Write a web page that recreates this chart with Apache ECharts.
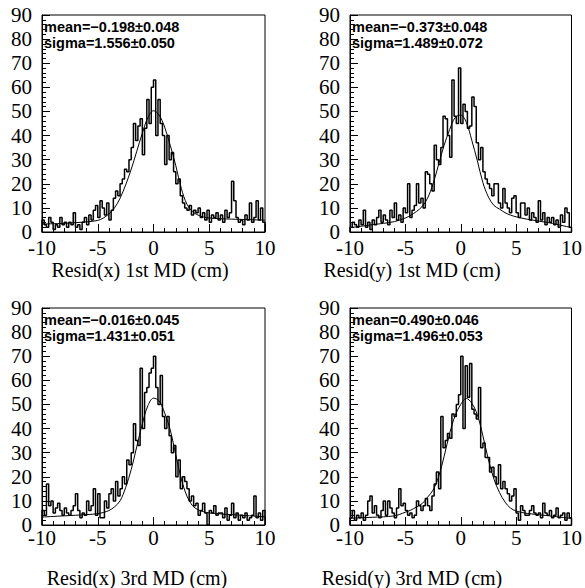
<!DOCTYPE html>
<html>
<head>
<meta charset="utf-8">
<script src="https://cdn.jsdelivr.net/npm/echarts@6/dist/echarts.min.js"></script>
<style>
html,body{margin:0;padding:0;background:#fff;}
#chart{width:585px;height:588px;}
</style>
</head>
<body>
<div id="chart"></div>
<script>
// Histogram binning (100 bins from -10 to 10)
const binLow = -10;
const binWidth = 0.2;

const countsX1 = [5,3,2,6,4,1,3,2,6,3,
  4,2,4,3,8,2,3,1,4,6,
  3,7,5,9,11,6,13,10,7,12,
  5,9,14,17,15,20,22,26,25,30,
  35,45,38,44,47,32,43,55,45,60,
  63,40,55,45,40,28,40,30,33,25,
  20,22,15,12,10,9,11,7,9,8,
  10,6,8,5,9,4,7,6,8,5,
  7,4,9,6,8,21,13,6,4,5,
  3,7,5,12,4,6,13,5,10,4];

const countsY1 = [2,4,3,2,5,3,9,2,4,1,
  5,3,6,9,4,7,5,3,9,6,
  12,5,7,4,10,8,20,6,9,11,
  20,12,14,10,25,24,20,17,36,30,
  28,35,48,47,40,31,63,48,45,68,
  45,53,50,43,44,56,52,37,30,35,
  25,22,20,18,15,20,20,12,10,18,
  12,10,8,14,15,8,6,12,12,7,
  10,5,8,6,4,13,5,8,3,6,
  4,6,3,5,2,7,4,10,8,2];

const countsX3 = [6,4,17,8,10,5,7,9,6,4,
  7,5,4,6,8,13,6,3,5,4,
  10,6,8,15,4,13,3,3,10,7,
  13,15,10,18,12,15,20,17,27,25,
  30,42,35,33,65,40,55,57,63,65,
  70,57,50,62,45,40,45,37,30,33,
  20,27,15,20,18,15,10,12,8,9,
  4,6,9,5,0,6,5,8,4,5,
  5,3,7,2,4,9,3,5,2,4,
  3,5,2,3,4,12,3,5,2,6];

const countsY3 = [3,6,2,4,3,5,2,4,10,12,
  5,8,4,3,6,10,4,10,7,5,
  3,7,15,8,9,6,4,5,3,4,
  10,8,6,8,11,8,6,12,17,22,
  15,45,32,35,38,36,46,45,50,54,
  70,40,66,53,67,48,46,44,57,32,
  34,28,28,22,24,20,17,25,15,18,
  15,13,10,12,15,5,2,8,6,4,
  4,6,8,5,4,5,3,9,5,4,
  6,3,4,7,3,4,5,2,5,3];

// Fit curves at these x positions
const fitX = [-10,-8,-6,-5,-4.5,-4,-3.5,-3,-2.5,-2,-1.5,-1,-0.5,0,0.5,1,1.5,2,2.5,3,3.5,4,4.5,5,6,8,10];
const fitX1 = [3.3,3.6,4.2,4.8,5.8,7.5,10,14,19.5,26,33.5,41,47.5,50.3,48.5,43.5,36,27.5,18,11.5,8.5,7,6.2,5.8,5.5,5.2,4.9];
const fitY1 = [1.8,3,4.3,5.8,7,8.5,10.5,14,20,28,36,42.5,47.5,48.5,45.5,38,29.5,20.5,14.5,11,9.5,8,7,6.3,5.3,3.8,1.8];
const fitX3 = [3.3,3.8,4.3,4.7,5.2,6,7.5,10,15.5,23,32.5,42,49.5,52.6,51.5,46.5,39.5,29,19,12,8,6.3,5.5,5,4.6,4,3.4];
const fitY3 = [2.8,3.2,3.8,5.3,6.2,7.5,8.8,11.5,14.5,20,28.5,38,45.5,50,52.5,50.5,45.7,37,27,19,13.5,9.5,7,5.8,4.8,3.8,2.7];

const statLines = [
  ['mean=\u22120.198\u00b10.048', 'sigma=1.556\u00b10.050'],
  ['mean=\u22120.373\u00b10.048', 'sigma=1.489\u00b10.072'],
  ['mean=\u22120.016\u00b10.045', 'sigma=1.431\u00b10.051'],
  ['mean=0.490\u00b10.046', 'sigma=1.496\u00b10.053']
];
const axisTitles = ['Resid(x) 1st MD (cm)', 'Resid(y) 1st MD (cm)', 'Resid(x) 3rd MD (cm)', 'Resid(y) 3rd MD (cm)'];
const xTicks = [-10, 10, 5];   // min, max, interval
const yTicks = [0, 90, 10];

const panels = [
  {counts: countsX1, fit: fitX1, left: 42, top: 15, labMargin: 8, titleX: 140, titleY: 270},
  {counts: countsY1, fit: fitY1, left: 350, top: 15, labMargin: 8, titleX: 412, titleY: 270},
  {counts: countsX3, fit: fitX3, left: 42, top: 308, labMargin: 5, titleX: 137, titleY: 578},
  {counts: countsY3, fit: fitY3, left: 350, top: 308, labMargin: 5, titleX: 412, titleY: 578}
];
const W = 223, H = 217;

function histData(counts) {
  const d = [[binLow, 0]];
  counts.forEach((c, i) => d.push([Math.round((binLow + i * binWidth) * 10) / 10, c]));
  const hi = Math.round((binLow + counts.length * binWidth) * 10) / 10;
  d.push([hi, counts[counts.length - 1]]);
  d.push([hi, 0]);
  return d;
}

const grids = [], xAxes = [], yAxes = [], series = [], graphics = [];
const serif = '"Liberation Serif", "Times New Roman", serif';
panels.forEach((p, i) => {
  grids.push({left: p.left, top: p.top, width: W, height: H, show: true, borderColor: '#000', borderWidth: 1, backgroundColor: 'transparent'});
  xAxes.push({
    type: 'value', gridIndex: i, min: xTicks[0], max: xTicks[1], interval: xTicks[2],
    axisLine: {onZero: false, lineStyle: {color: '#000', width: 1}},
    axisTick: {inside: true, length: 8, lineStyle: {color: '#000'}},
    minorTick: {show: true, splitNumber: 5, length: 4, lineStyle: {color: '#000'}},
    splitLine: {show: false},
    axisLabel: {color: '#000', fontFamily: serif, fontSize: 21, lineHeight: 16, margin: p.labMargin}
  });
  yAxes.push({
    type: 'value', gridIndex: i, min: yTicks[0], max: yTicks[1], interval: yTicks[2],
    axisLine: {show: true, onZero: false, lineStyle: {color: '#000', width: 1}},
    axisTick: {inside: true, length: 8, lineStyle: {color: '#000'}},
    minorTick: {show: true, splitNumber: 5, length: 4, lineStyle: {color: '#000'}},
    splitLine: {show: false},
    axisLabel: {color: '#000', fontFamily: serif, fontSize: 21, lineHeight: 16, margin: 10}
  });
  series.push({
    type: 'line', xAxisIndex: i, yAxisIndex: i, data: histData(p.counts), step: 'end',
    showSymbol: false, symbol: 'none', lineStyle: {color: '#000', width: 1.5}, silent: true
  });
  series.push({
    type: 'line', xAxisIndex: i, yAxisIndex: i, data: fitX.map((x, k) => [x, p.fit[k]]), smooth: 0.35,
    showSymbol: false, symbol: 'none', lineStyle: {color: '#000', width: 1}, silent: true
  });
  statLines[i].forEach((t, k) => {
    graphics.push({
      type: 'text', x: p.left + 2, y: p.top + 12 + k * 16,
      style: {text: t, font: 'bold 14.5px "Liberation Sans", Arial, sans-serif', fill: '#000',
        textAlign: 'left', textVerticalAlign: 'middle', align: 'left', verticalAlign: 'middle'}
    });
  });
  graphics.push({
    type: 'text', x: p.titleX, y: p.titleY,
    style: {text: axisTitles[i], font: '20px ' + serif, fill: '#000',
      textAlign: 'center', textVerticalAlign: 'middle', align: 'center', verticalAlign: 'middle'}
  });
});

const chart = echarts.init(document.getElementById('chart'), null, {renderer: 'svg'});
chart.setOption({
  animation: false,
  backgroundColor: '#fff',
  grid: grids, xAxis: xAxes, yAxis: yAxes, series: series, graphic: graphics
});
</script>
</body>
</html>
